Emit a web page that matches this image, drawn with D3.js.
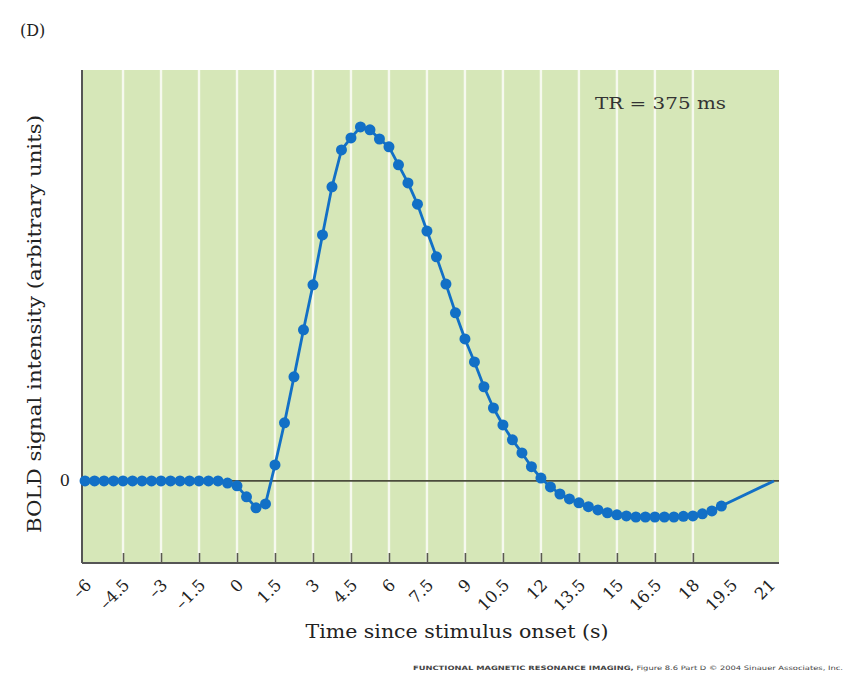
<!DOCTYPE html>
<html>
<head>
<meta charset="utf-8">
<script src="https://cdn.jsdelivr.net/npm/d3@7/dist/d3.min.js"></script>
<style>
  html, body { margin: 0; padding: 0; background: #ffffff; }
  svg { display: block; }
</style>
</head>
<body>
<svg id="chart" width="845" height="681"></svg>
<script>
// Sample times (s), one per TR of 375 ms, then the closing point
const times = [
  -6, -5.625, -5.25, -4.875, -4.5, -4.125, -3.75, -3.375, -3, -2.625,
  -2.25, -1.875, -1.5, -1.125, -0.75, -0.375, 0, 0.375, 0.75, 1.125,
  1.5, 1.875, 2.25, 2.625, 3, 3.375, 3.75, 4.125, 4.5, 4.875,
  5.25, 5.625, 6, 6.375, 6.75, 7.125, 7.5, 7.875, 8.25, 8.625,
  9, 9.375, 9.75, 10.125, 10.5, 10.875, 11.25, 11.625, 12, 12.375,
  12.75, 13.125, 13.5, 13.875, 14.25, 14.625, 15, 15.375, 15.75, 16.125,
  16.5, 16.875, 17.25, 17.625, 18, 18.375, 18.75, 19.125, 21.2
];

// BOLD signal (arbitrary units, peak = 1)
const bold = [
  0, 0, 0, 0, 0, 0, 0, 0, 0, 0,
  0, 0, 0, 0, 0, -0.006, -0.014, -0.045, -0.076, -0.065,
  0.045, 0.164, 0.294, 0.427, 0.554, 0.695, 0.831, 0.935, 0.969, 1.0,
  0.992, 0.966, 0.944, 0.893, 0.842, 0.782, 0.706, 0.633, 0.556, 0.475,
  0.401, 0.336, 0.266, 0.206, 0.158, 0.116, 0.079, 0.040, 0.008, -0.017,
  -0.037, -0.051, -0.062, -0.073, -0.082, -0.090, -0.096, -0.099, -0.102, -0.102,
  -0.102, -0.102, -0.102, -0.100, -0.099, -0.093, -0.085, -0.071, 0
];

// Axis tick positions and their printed labels
const xTicks = [-6, -4.5, -3, -1.5, 0, 1.5, 3, 4.5, 6, 7.5, 9, 10.5, 12, 13.5, 15, 16.5, 18, 19.5, 21];
const xTickLabels = ["\u20136", "\u20134.5", "\u20133", "\u20131.5", "0", "1.5", "3", "4.5", "6", "7.5", "9", "10.5", "12", "13.5", "15", "16.5", "18", "19.5", "21"];
const gridTimes = [-4.5, -3, -1.5, 0, 1.5, 3, 4.5, 6, 7.5, 9, 10.5, 12, 13.5, 15, 16.5, 18];

const points = times.map((t, i) => ({ t, v: bold[i] }));
const markerCount = times.length - 1;   // last point closes the line without a marker

const svg = d3.select("#chart");
const plotLeft = 82, plotRight = 779, plotTop = 70, plotBottom = 563;

const x = d3.scaleLinear().domain([-6.12, 21.4]).range([plotLeft, plotRight]);
const y = d3.scaleLinear().domain([-0.232, 1.161]).range([plotBottom, plotTop]);

const serif = "'DejaVu Serif', 'Liberation Serif', serif";

// Plot background
svg.append("rect")
  .attr("x", plotLeft).attr("y", plotTop)
  .attr("width", plotRight - plotLeft).attr("height", plotBottom - plotTop)
  .attr("fill", "#d6e7b8");

// White vertical grid lines
svg.append("g").selectAll("line")
  .data(gridTimes)
  .join("line")
  .attr("x1", d => x(d)).attr("x2", d => x(d))
  .attr("y1", plotTop).attr("y2", plotBottom)
  .attr("stroke", "#f6f9ee")
  .attr("stroke-width", 2.4);

// Zero reference line
svg.append("line")
  .attr("x1", plotLeft).attr("x2", plotRight)
  .attr("y1", y(0)).attr("y2", y(0))
  .attr("stroke", "#4b4c3c")
  .attr("stroke-width", 1.8);

// Bottom axis with inward ticks and slanted labels
const xAxis = d3.axisBottom(x)
  .tickValues(xTicks)
  .tickSize(-10)
  .tickFormat((d, i) => xTickLabels[i]);

const gx = svg.append("g")
  .attr("transform", `translate(0,${plotBottom})`)
  .call(xAxis);
gx.select(".domain")
  .attr("stroke", "#555555")
  .attr("stroke-width", 2)
  .attr("d", `M${plotLeft},0H${plotRight}`);
gx.selectAll(".tick line")
  .attr("stroke", "#5a5a50")
  .attr("stroke-width", 1.6);
gx.selectAll(".tick")
  .filter(d => d === -6 || d === 19.5 || d === 21)
  .select("line").remove();
gx.selectAll(".tick text")
  .attr("y", null).attr("dy", null)
  .attr("text-anchor", "end")
  .attr("transform", "translate(7,23) rotate(-45)")
  .attr("font-family", serif)
  .attr("font-size", 16.5)
  .attr("fill", "#222222");

// Left axis line
svg.append("line")
  .attr("x1", plotLeft).attr("x2", plotLeft)
  .attr("y1", plotTop).attr("y2", plotBottom)
  .attr("stroke", "#555555")
  .attr("stroke-width", 2);

// Zero label on the y axis
svg.append("text")
  .attr("x", 70).attr("y", y(0))
  .attr("dy", "0.35em")
  .attr("text-anchor", "end")
  .attr("font-family", serif)
  .attr("font-size", 16)
  .attr("fill", "#222222")
  .text("0");

// BOLD response line
const line = d3.line().x(d => x(d.t)).y(d => y(d.v));
svg.append("path")
  .datum(points)
  .attr("d", line)
  .attr("fill", "none")
  .attr("stroke", "#1270c6")
  .attr("stroke-width", 2.8)
  .attr("stroke-linejoin", "round");

svg.append("g").selectAll("circle")
  .data(points.slice(0, markerCount))
  .join("circle")
  .attr("cx", d => x(d.t))
  .attr("cy", d => y(d.v))
  .attr("r", 5.5)
  .attr("fill", "#1270c6");

// Annotation
svg.append("text")
  .attr("x", 595).attr("y", 109)
  .attr("font-family", serif)
  .attr("font-size", 16)
  .attr("textLength", 131)
  .attr("lengthAdjust", "spacingAndGlyphs")
  .attr("fill", "#333333")
  .text("TR = 375 ms");

// Panel letter
svg.append("text")
  .attr("x", 20).attr("y", 36)
  .attr("font-family", serif)
  .attr("font-size", 16)
  .attr("fill", "#222222")
  .text("(D)");

// Axis titles
svg.append("text")
  .attr("x", 457).attr("y", 638)
  .attr("text-anchor", "middle")
  .attr("font-family", serif)
  .attr("font-size", 18)
  .attr("textLength", 303)
  .attr("lengthAdjust", "spacingAndGlyphs")
  .attr("fill", "#222222")
  .text("Time since stimulus onset (s)");

svg.append("text")
  .attr("transform", `translate(41,${(115 + 533) / 2}) rotate(-90)`)
  .attr("text-anchor", "middle")
  .attr("font-family", serif)
  .attr("font-size", 18)
  .attr("textLength", 418)
  .attr("lengthAdjust", "spacingAndGlyphs")
  .attr("fill", "#222222")
  .text("BOLD signal intensity (arbitrary units)");

// Credit line
const credit = svg.append("text")
  .attr("x", 413).attr("y", 670)
  .attr("font-family", "'DejaVu Sans', sans-serif")
  .attr("font-size", 6)
  .attr("textLength", 430)
  .attr("lengthAdjust", "spacingAndGlyphs")
  .attr("fill", "#444444");
credit.append("tspan").attr("font-weight", "bold").text("FUNCTIONAL MAGNETIC RESONANCE IMAGING, ");
credit.append("tspan").text("Figure 8.6 Part D © 2004 Sinauer Associates, Inc.");
</script>
</body>
</html>
